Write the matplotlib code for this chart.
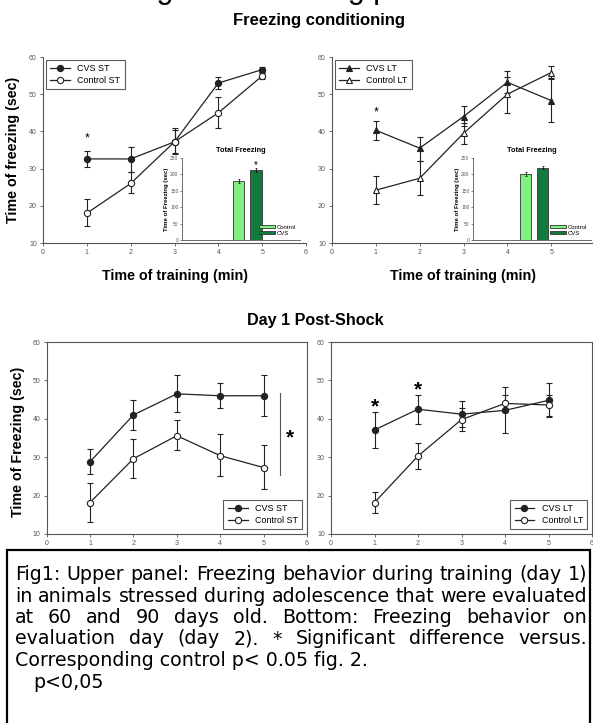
import numpy as np
import matplotlib
matplotlib.use('Agg')
import matplotlib.pyplot as plt
from matplotlib.patches import Rectangle
from matplotlib.lines import Line2D

plt.rcParams['font.family'] = ['Liberation Sans', 'DejaVu Sans']

# x values (minutes)
minutes = [1, 2, 3, 4, 5]

# Freezing conditioning (training, day 1) - short term
cvs_st_train = [32.6, 32.6, 37.2, 53.0, 56.6]
cvs_st_train_lo = [30.5, 29.2, 34.3, 51.3, 55.9]
cvs_st_train_hi = [34.7, 35.9, 41.0, 54.7, 57.4]
ctl_st_train = [18.0, 26.0, 37.2, 45.0, 54.9]
ctl_st_train_lo = [14.6, 23.5, 33.8, 40.8, 54.0]
ctl_st_train_hi = [21.8, 29.0, 40.3, 49.3, 55.7]

# long term
cvs_lt_train = [40.3, 35.5, 44.0, 53.2, 48.3]
cvs_lt_train_lo = [37.7, 32.0, 41.5, 50.3, 42.6]
cvs_lt_train_hi = [42.9, 38.6, 46.8, 56.3, 54.3]
ctl_lt_train = [24.2, 27.4, 39.5, 50.0, 55.8]
ctl_lt_train_lo = [20.5, 23.0, 36.6, 45.0, 54.0]
ctl_lt_train_hi = [28.1, 32.0, 42.3, 54.5, 57.6]

# Total freezing insets
groups = ['Control', 'CVS']
total_st = [180, 213]
total_st_err = [7, 6]
total_lt = [201, 221]
total_lt_err = [5, 6]

# Day 1 post-shock
cvs_st_post = [28.8, 41.0, 46.5, 46.0, 46.0]
cvs_st_post_lo = [25.5, 37.2, 41.8, 42.7, 40.7]
cvs_st_post_hi = [32.2, 44.8, 51.5, 49.2, 51.3]
ctl_st_post = [18.2, 29.6, 35.6, 30.4, 27.3]
ctl_st_post_lo = [13.0, 24.7, 31.8, 25.0, 21.6]
ctl_st_post_hi = [23.3, 34.8, 39.6, 36.0, 33.2]

cvs_lt_post = [37.1, 42.5, 41.2, 42.2, 44.8]
cvs_lt_post_lo = [32.3, 38.6, 37.8, 36.3, 40.5]
cvs_lt_post_hi = [41.8, 46.3, 44.6, 48.3, 49.3]
ctl_lt_post = [18.2, 30.3, 39.8, 44.0, 43.6]
ctl_lt_post_lo = [15.4, 26.9, 36.9, 41.7, 40.7]
ctl_lt_post_hi = [21.0, 33.6, 42.8, 46.3, 46.2]

caption_lines = [
    "Fig1: Upper panel: Freezing behavior during training (day 1)",
    "in animals stressed during adolescence that were evaluated",
    "at 60 and 90 days old. Bottom: Freezing behavior on",
    "evaluation day (day 2). * Significant difference versus.",
    "Corresponding control p< 0.05 fig. 2.",
    "p<0,05",
]

W, H = 593, 723
fig = plt.figure(figsize=(W / 100, H / 100), dpi=100)


def px_axes(x0, y_top, x1, y_bot):
    return fig.add_axes([x0 / W, 1 - y_bot / H, (x1 - x0) / W, (y_bot - y_top) / H])


line_col = '#222222'
axis_col = '#555555'


def series(ax, y, lo, hi, marker, filled):
    y = np.array(y)
    err = [y - np.array(lo), np.array(hi) - y]
    ax.errorbar(minutes, y, yerr=err, color=line_col, lw=0.9, elinewidth=0.8,
                capsize=2.5, capthick=0.8, marker=marker, ms=4.5, mew=0.8,
                mfc=line_col if filled else 'white', mec=line_col)


def style_main(ax, box):
    ax.set_xlim(0, 6)
    ax.set_ylim(10, 60)
    ax.set_xticks(range(0, 7))
    ax.set_yticks(range(10, 61, 10))
    ax.tick_params(direction='out', length=2.5, width=0.6, labelsize=5,
                   labelcolor=axis_col, colors=axis_col, pad=2)
    for s in ax.spines.values():
        s.set_color(axis_col)
        s.set_linewidth(0.8)
    if not box:
        ax.spines['top'].set_visible(False)
        ax.spines['right'].set_visible(False)


def main_legend(ax, loc, marker, labels):
    handles = [Line2D([], [], color=line_col, lw=0.9, marker=marker, ms=4.5, mew=0.8,
                      mfc=c, mec=line_col) for c in (line_col, 'white')]
    leg = ax.legend(handles, labels, loc=loc, fontsize=6.5, frameon=True, fancybox=False,
                    borderaxespad=0.3 if loc == 'upper left' else 0.5,
                    handlelength=2.2, borderpad=0.5, labelspacing=0.3)
    leg.get_frame().set_edgecolor('#333333')
    leg.get_frame().set_linewidth(0.8)


def inset(x0, x1, vals, errs, spacing, star):
    ax = px_axes(x0, 158, x0 + 118, 240)
    ax.patch.set_alpha(0)
    pos = np.arange(len(groups))
    ax.bar(pos, vals, width=0.65, yerr=errs, color=['#80f080', '#127a3c'],
           edgecolor='#333333', linewidth=0.6, capsize=1,
           error_kw=dict(lw=0.5, capthick=0.5), label=groups)
    ax.set_xlim(-x1, spacing)
    ax.set_ylim(0, 250)
    ax.set_xticks([])
    ax.set_yticks(range(0, 251, 50))
    ax.tick_params(direction='out', length=1.5, width=0.5, labelsize=3.5,
                   labelcolor=axis_col, colors=axis_col, pad=1)
    for s in ['top', 'right']:
        ax.spines[s].set_visible(False)
    for s in ['left', 'bottom']:
        ax.spines[s].set_color(axis_col)
        ax.spines[s].set_linewidth(0.6)
    ax.set_ylabel('Time of Freezing (sec)', fontsize=4.3, fontweight='bold', labelpad=1)
    ax.set_title('Total Freezing', fontsize=5.3, fontweight='bold', pad=4)
    if star:
        ax.text(1, vals[1] + errs[1] + 10, '*', ha='center', va='center', fontsize=7)
    ax.legend(loc='lower right', fontsize=4.3, frameon=False, handlelength=2.6,
              handleheight=0.5, labelspacing=0.2, borderaxespad=0.3, handletextpad=0.3)
    return ax


label_size = 10.3

# ---- top left: training ST ----
ax1 = px_axes(43, 57, 306, 243)
style_main(ax1, False)
series(ax1, cvs_st_train, cvs_st_train_lo, cvs_st_train_hi, 'o', True)
series(ax1, ctl_st_train, ctl_st_train_lo, ctl_st_train_hi, 'o', False)
ax1.text(1, 38.2, '*', ha='center', va='center', fontsize=9)
main_legend(ax1, 'upper left', 'o', ['CVS ST', 'Control ST'])
ax1.set_xlabel('Time of training (min)', fontsize=label_size, fontweight='bold', labelpad=9)
inset(182, 3.23, total_st, total_st_err, 3.51, True)

# ---- top right: training LT ----
ax2 = px_axes(332, 57, 595, 243)
style_main(ax2, False)
series(ax2, cvs_lt_train, cvs_lt_train_lo, cvs_lt_train_hi, '^', True)
series(ax2, ctl_lt_train, ctl_lt_train_lo, ctl_lt_train_hi, '^', False)
ax2.text(1, 45.2, '*', ha='center', va='center', fontsize=9)
main_legend(ax2, 'upper left', '^', ['CVS LT', 'Control LT'])
ax2.set_xlabel('Time of training (min)', fontsize=label_size, fontweight='bold', labelpad=9)
inset(473, 3.09, total_lt, total_lt_err, 3.85, False)

# ---- bottom left: post-shock ST ----
ax3 = px_axes(46.6, 342, 307, 534)
style_main(ax3, True)
series(ax3, cvs_st_post, cvs_st_post_lo, cvs_st_post_hi, 'o', True)
series(ax3, ctl_st_post, ctl_st_post_lo, ctl_st_post_hi, 'o', False)
ax3.plot([5.38, 5.38], [25.4, 46.7], color=axis_col, lw=0.8)
ax3.text(5.6, 35.0, '*', ha='center', va='center', fontsize=15, fontweight='bold')
main_legend(ax3, 'lower right', 'o', ['CVS ST', 'Control ST'])

# ---- bottom right: post-shock LT ----
ax4 = px_axes(331, 342, 592, 534)
style_main(ax4, True)
series(ax4, cvs_lt_post, cvs_lt_post_lo, cvs_lt_post_hi, 'o', True)
series(ax4, ctl_lt_post, ctl_lt_post_lo, ctl_lt_post_hi, 'o', False)
ax4.text(1, 43.0, '*', ha='center', va='center', fontsize=15, fontweight='bold')
ax4.text(2, 47.4, '*', ha='center', va='center', fontsize=15, fontweight='bold')
main_legend(ax4, 'lower right', 'o', ['CVS LT', 'Control LT'])

# ---- titles and shared labels ----
# page title cut off at the top edge, only descenders show
fig.text(55 / W, 1 + 2 / H, 'Freezing in the training period', ha='left', va='baseline',
         fontsize=22)
fig.text(319 / W, 1 - 20 / H, 'Freezing conditioning', ha='center', va='center',
         fontsize=12, fontweight='bold')
fig.text(315 / W, 1 - 320 / H, 'Day 1 Post-Shock', ha='center', va='center',
         fontsize=11.6, fontweight='bold')
fig.text(13 / W, 1 - 150 / H, 'Time of freezing (sec)', rotation=90, ha='center',
         va='center', fontsize=label_size, fontweight='bold')
fig.text(18 / W, 1 - 442 / H, 'Time of Freezing (sec)', rotation=90, ha='center',
         va='center', fontsize=label_size, fontweight='bold')

# ---- caption box ----
fig.patches.append(Rectangle((7 / W, -0.01), (590 - 7) / W, 0.01 + (H - 550) / H,
                             transform=fig.transFigure, fill=False, lw=1.6,
                             edgecolor='black'))

cap_size = 13.7
cap_font = 'DejaVu Sans'
renderer = fig.canvas.get_renderer()
left_px, right_px = 15, 587
baselines = [580, 601.5, 623, 644.5, 666, 687.5]
for i, line in enumerate(caption_lines):
    y = 1 - baselines[i] / H
    if i < 4:
        words = line.split(' ')
        widths = []
        for w in words:
            t = fig.text(0, 0, w, fontsize=cap_size, family=cap_font)
            widths.append(t.get_window_extent(renderer).width)
            t.remove()
        gap = (right_px - left_px - sum(widths)) / (len(words) - 1)
        x = left_px
        for w, wd in zip(words, widths):
            fig.text(x / W, y, w, fontsize=cap_size, family=cap_font, ha='left',
                     va='baseline')
            x += wd + gap
    else:
        x = left_px if i == 4 else 33
        fig.text(x / W, y, line, fontsize=cap_size, family=cap_font, ha='left',
                 va='baseline')

fig.savefig('out.png', dpi=100)
